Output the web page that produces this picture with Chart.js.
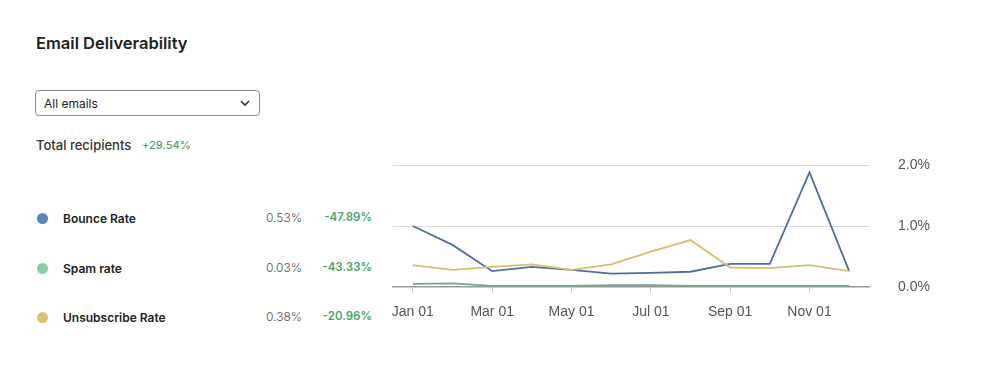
<!DOCTYPE html>
<html>
<head>
<meta charset="utf-8">
<script src="https://cdn.jsdelivr.net/npm/chart.js@4"></script>
<style>
    body { margin: 0; background: #fff; width: 1000px; height: 375px; position: relative; overflow: hidden; font-family: Inter, "Noto Sans", sans-serif; color: #222; }
    .titulo { position: absolute; left: 36px; top: 33px; font-size: 16.5px; font-weight: 600; }
    .select { position: absolute; left: 35px; top: 90px; width: 225px; height: 26px; border: 1px solid #8a8a8a; border-radius: 4px; box-sizing: border-box; }
    .select span { position: absolute; left: 8px; top: 5px; font-size: 12px; color: #222; }
    .select svg { position: absolute; right: 9px; top: 9px; }
    .total { position: absolute; left: 36px; top: 137px; font-size: 13px; font-weight: 500; color: #333; }
    .total b { position: absolute; left: 106px; top: 1px; font-size: 11px; font-weight: 500; color: #4aa56a; white-space: nowrap; }
    .fila { position: absolute; left: 0; height: 20px; width: 380px; font-size: 12px; }
    .fila i { position: absolute; left: 37px; top: 4px; width: 11px; height: 11px; border-radius: 50%; }
    .fila .nombre { position: absolute; left: 63px; top: 2px; font-weight: 600; color: #222; }
    .fila .valor { position: absolute; right: 78px; top: 1px; color: #555; font-weight: 300; }
    .fila .cambio { position: absolute; right: 8px; top: 1px; color: #4aa56a; font-weight: 600; font-size: 11.5px; }
    #grafica { position: absolute; left: 380px; top: 145px; width: 620px; height: 200px; }
</style>
</head>
<body>
<div class="titulo">Email Deliverability</div>
<div class="select"><span>All emails</span>
    <svg width="10" height="7" viewBox="0 0 10 7"><path d="M1 1 L5 5 L9 1" fill="none" stroke="#333" stroke-width="1.6"/></svg>
</div>
<div class="total">Total recipients<b>+29.54%</b></div>
<div id="leyenda"></div>
<div id="grafica"><canvas id="chart-email"></canvas></div>

<script>
// datos
const meses = ["Jan 01", "Feb 01", "Mar 01", "Apr 01", "May 01", "Jun 01", "Jul 01", "Aug 01", "Sep 01", "Oct 01", "Nov 01", "Dec 01"];
const bounceRate = [1.0, 0.69, 0.26, 0.33, 0.28, 0.22, 0.23, 0.25, 0.38, 0.38, 1.88, 0.26];
const spamRate = [0.05, 0.06, 0.02, 0.02, 0.02, 0.03, 0.03, 0.02, 0.02, 0.02, 0.02, 0.02];
const unsubscribeRate = [0.36, 0.28, 0.33, 0.37, 0.28, 0.37, 0.58, 0.77, 0.32, 0.31, 0.36, 0.26];
const yTicks = [0, 1, 2];

const nombres = ["Bounce Rate", "Spam rate", "Unsubscribe Rate"];
const totales = ["0.53%", "0.03%", "0.38%"];
const cambios = ["-47.89%", "-43.33%", "-20.96%"];
const coloresPunto = ["#5b84c4", "#8ccfaa", "#d9c270"];
const coloresLinea = ["#4f6fa0", "#6faa8a", "#d6bf6e"];

//leyenda de la izquierda
const leyenda = document.getElementById("leyenda");
const filasY = [209, 259, 308];
nombres.forEach((n, i) => {
    let fila = document.createElement("div");
    fila.className = "fila";
    fila.style.top = filasY[i] + "px";
    fila.innerHTML = `<i style="background:${coloresPunto[i]}"></i><span class="nombre">${n}</span>` +
        `<span class="valor">${totales[i]}</span><span class="cambio">${cambios[i]}</span>`;
    leyenda.appendChild(fila);
});

// etiquetas del eje y a la derecha (se dibujan con la escala de chart.js)
const etiquetasY = {
    id: "etiquetasY",
    afterDraw(chart) {
        const esc = chart.scales.y;
        const c = chart.ctx;
        c.save();
        c.font = "14px 'Liberation Sans'";
        c.fillStyle = "#555";
        c.textAlign = "left";
        c.textBaseline = "middle";
        yTicks.forEach(v => {
            c.fillText(v.toFixed(1) + "%", chart.chartArea.right + 29, esc.getPixelForValue(v));
        });
        c.restore();
    }
};

const ctx = document.getElementById("chart-email").getContext("2d");

new Chart(ctx, {
    type: "line",
    data: {
        labels: meses,
        datasets: [
            { label: nombres[2], data: unsubscribeRate, borderColor: coloresLinea[2] },
            { label: nombres[1], data: spamRate, borderColor: coloresLinea[1] },
            { label: nombres[0], data: bounceRate, borderColor: coloresLinea[0] }
        ]
    },
    plugins: [etiquetasY],
    options: {
        responsive: true,
        maintainAspectRatio: false,
        animation: false,
        elements: {
            line: { borderWidth: 1.8, tension: 0 },
            point: { radius: 0 }
        },
        layout: { padding: { left: 13, top: 20, right: 131 } },
        plugins: {
            legend: { display: false },
            tooltip: { enabled: false }
        },
        scales: {
            x: {
                offset: true,
                grid: { drawOnChartArea: false, tickLength: 6, color: "#c8c8c8" },
                border: { color: "#9a9a9a", width: 1.2 },
                ticks: {
                    autoSkip: true,
                    maxTicksLimit: 6,
                    maxRotation: 0,
                    padding: 11,
                    color: "#555",
                    font: { family: "Liberation Sans", size: 14 }
                },
                afterFit: (axis) => { axis.height = 58; }
            },
            y: {
                position: "right",
                min: 0,
                max: 2,
                afterBuildTicks: (axis) => { axis.ticks = yTicks.map(v => ({ value: v })); },
                grid: { color: "#dcdcdc", drawTicks: false },
                border: { display: false },
                ticks: { display: false },
                afterFit: (axis) => { axis.width = 0; }
            }
        }
    }
});
</script>
</body>
</html>
